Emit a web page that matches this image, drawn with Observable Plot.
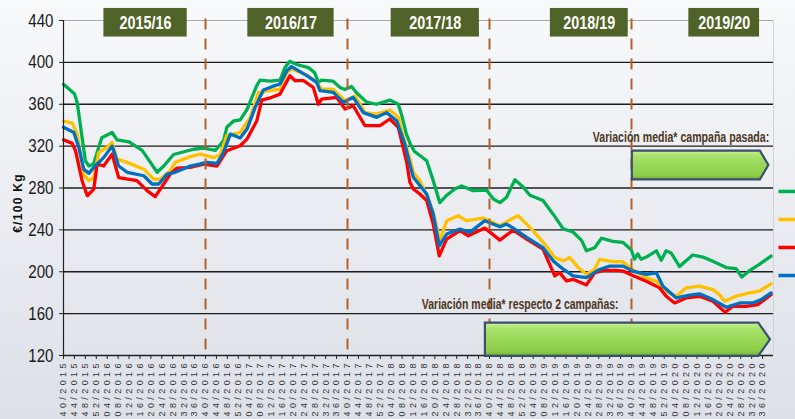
<!DOCTYPE html>
<html><head><meta charset="utf-8">
<script src="https://cdn.jsdelivr.net/npm/d3@7"></script>
<script src="https://cdn.jsdelivr.net/npm/@observablehq/plot@0.6"></script>
<style>
html,body{margin:0;padding:0;}
body{width:795px;height:419px;overflow:hidden;background:linear-gradient(#f8f9fb,#dde0e7);}
</style></head><body><div id="chart"></div>
<script>
// ---- data ----
const weekLabels = [
"40/2015","44/2015","48/2015","52/2015",
"04/2016","08/2016","12/2016","16/2016","20/2016","24/2016","28/2016","32/2016","36/2016","40/2016","44/2016","48/2016","52/2016",
"04/2017","08/2017","12/2017","16/2017","20/2017","24/2017","28/2017","32/2017","36/2017","40/2017","44/2017","48/2017","52/2017",
"04/2018","08/2018","12/2018","16/2018","20/2018","24/2018","28/2018","32/2018","36/2018","40/2018","44/2018","48/2018","52/2018",
"04/2019","08/2019","12/2019","16/2019","20/2019","24/2019","28/2019","32/2019","36/2019","40/2019","44/2019","48/2019","52/2019",
"04/2020","08/2020","12/2020","16/2020","20/2020","24/2020","28/2020","32/2020","36/2020"];
const seasons = ["2015/16","2016/17","2017/18","2018/19","2019/20"];
const seasonStartWeeks = [52,104,156,208]; // week index of 40/2016 ... 40/2019
const yTicks = [120,160,200,240,280,320,360,400,440];
const yTitle = "€/100 Kg";
const noteLastSeason = "Variación media* campaña pasada:";
const noteTwoSeasons = "Variación media* respecto 2 campañas:";

// [week index, €/100 Kg]
const greenSeries = [[0,379],[4,370],[5,362],[8,306],[9.3,301],[11,303],[14,328],[17.8,333],[19.6,326],[24,324],[28.8,316],[34.3,295],[36.7,301],[40.3,312],[47.6,317],[51.3,318],[55.6,316],[58.6,325],[59.8,338],[62.3,344],[64.7,345],[67.2,355],[70.8,378],[72,383],[75.7,382],[79.3,383],[81.1,395],[82.9,401],[85.4,398],[89.7,395],[92,390],[93.3,381],[94.5,383],[98.7,382],[101.3,376],[103,374],[105.5,377],[107.3,371],[111,362],[114.6,360],[119.5,364],[122.6,360],[124,348],[125.5,332],[127,322],[128.5,315],[130.5,311],[133,306],[135.4,287],[137.8,266],[140.3,273],[143.3,279],[145.8,282],[150,277.5],[154.9,278],[157.4,269.5],[159.8,266],[162.2,271],[165.3,288],[168.3,281],[170.8,273],[175.6,268],[179.3,255],[183,241],[186.6,238],[189.7,230],[191.5,220],[194.5,223],[197,232],[201.2,229],[204.9,228],[207.9,221],[209.1,212],[210.3,217],[211.5,212],[213.4,214],[217.1,220],[218.9,211],[220.7,220],[222.5,218],[225.6,205],[230.4,216],[234.1,214],[237.8,210],[242.7,204],[246.3,203],[248.4,195],[251.2,201],[254.8,207],[259.1,215]];
const yellowSeries = [[0,344],[3.2,342],[5,331.5],[7.4,293],[9.3,287],[11.1,290],[12.9,314],[16,319],[17.8,323.6],[19.6,307.6],[23.3,304.5],[29.4,298],[33,288.5],[35.5,288.5],[39.1,296.5],[40.9,304.5],[46.4,310],[50.1,312.4],[55,309],[57.4,312],[59.8,330],[64.7,333],[68.4,347.5],[71.4,371],[75.6,373],[79.3,374.5],[81.8,390],[83.5,393.6],[89.1,388],[92.7,381],[94.5,374.5],[98.8,374.5],[101.3,368],[103.1,363.4],[106.8,368],[110.4,352],[114.7,350.6],[119.5,354.5],[122.6,347.5],[124.5,328],[126.8,309],[128.1,295],[130.5,287],[133,272.7],[135.4,256.7],[137.8,229.6],[140.3,248.8],[144.5,253.5],[147.6,248.8],[153.7,251.3],[159.8,244],[164.7,251.3],[166.5,253.5],[169.6,245.5],[172,239],[176.2,226.4],[179.9,213.6],[183,210.4],[185.4,213.6],[188.5,204],[191.5,197.6],[194.5,202.2],[196.3,211.8],[201.2,209.6],[204.9,209.6],[207.3,203.8],[210.3,199],[213.4,194.2],[217.1,191],[220.7,181.4],[224.4,176.6],[228,184.6],[232.9,186.2],[237.8,183],[240.2,178.2],[242.1,171.8],[246.3,176.6],[251.2,179.8],[254.8,181.4],[259.1,188.5]];
const redSeries = [[0,326],[3.2,322.6],[4.4,315.6],[6.8,287],[8.7,272.6],[11.1,279],[12.3,302.9],[14.7,301],[17.8,312.4],[20.2,290],[26.9,287],[30.6,277.5],[33.6,271.7],[36.7,283.8],[39.1,293.3],[41.6,299],[46.4,299.7],[51.3,302.9],[56.2,301],[59.8,315.6],[64.7,320.4],[67.2,326.8],[70.8,344.3],[72.6,364],[76.3,366.6],[79.3,369.7],[82.9,387.3],[84.8,382.5],[87.9,382.5],[91.5,376],[93.3,360],[94.5,365],[100,366.6],[103.1,355.4],[106.1,358.6],[110.4,339.5],[115.9,339.5],[119.5,345.9],[122.6,337.9],[125.7,304.5],[126.8,286],[128.1,279],[130.5,274.3],[133,268],[135.4,245.5],[137.6,215.2],[140.3,231.2],[145.2,239.2],[148.2,234.4],[154.3,241.7],[159.8,230.2],[164.7,239.8],[169.6,231.2],[175.6,221.6],[179.9,196],[181.7,199.2],[184.2,191.2],[186.6,192.8],[191.5,187.4],[194.5,199],[197.6,201.3],[202.4,201.3],[205,200.6],[209.1,195.8],[213.4,191],[218.3,184.6],[220.7,176.6],[223.8,170.2],[228,175],[232.9,176.6],[237.8,171.8],[242.3,161.3],[245.1,167],[250,167],[254.2,168.6],[259.1,178.2]];
const blueSeries = [[0,338],[3.8,333],[5.6,318.8],[7.4,298],[9.3,294],[11.1,299.7],[14.7,309],[17.8,320],[20.2,301],[23.3,295],[29.4,291.7],[32.4,283.8],[34.9,283.8],[37.9,293.3],[40.9,295],[46.4,301],[50.1,303],[52.5,304.5],[56.2,303.5],[58.6,314],[61.1,331.5],[64.7,327.7],[67.2,336.3],[70.2,357],[73.2,373.6],[76.3,376.8],[79.3,379.3],[81.8,392],[83.5,396],[89.1,387.3],[92.7,381],[93.9,373],[98.8,371.3],[102.5,361.8],[106.1,366.6],[109.8,352],[114.7,347.5],[118.3,352],[122,344.3],[125,322],[126.8,303],[128.1,290.3],[130.5,282.3],[133,274.3],[135.4,255],[137.6,224.8],[140.3,236],[145.2,240.8],[148.8,237.6],[154.3,248.8],[159.8,243],[162.2,245.5],[164.7,241.7],[169.6,232.8],[175.6,223],[179.3,210.4],[183,202.4],[186.6,196],[191.5,194.4],[196.3,202.2],[200,205.4],[204.9,205.4],[208.5,200.6],[213.4,197.4],[217.1,199],[219.5,186.2],[224.4,175],[229.3,177.6],[232.9,178.9],[237.8,173.4],[242.7,166.1],[247.6,170.2],[252.4,170.2],[255.5,173.4],[259.1,179.8]];

// ---- layout / style (not data) ----
const seriesList = [
  {pts: greenSeries, color: "#00b050", legendY: 276.7},
  {pts: yellowSeries, color: "#ffc000", legendY: 249.9},
  {pts: redSeries, color: "#ff0000", legendY: 223.2},
  {pts: blueSeries, color: "#0070c0", legendY: 196.4}
];
const seasonBoxes = [[14.8,45.3],[67.5,99.1],[120.0,152.3],[178.3,206.8],[229.0,254.9]];
const sans = "'Liberation Sans',Arial,sans-serif";

const seasonRows = seasons.map((s,i)=>({label:s, x1:seasonBoxes[i][0], x2:seasonBoxes[i][1]}));

const marks = [
  Plot.ruleY([440], {stroke: "#a8a8a8", strokeWidth: 1}),
  Plot.ruleX([260], {y1: 120, y2: 440, stroke: "#cfd2d8", strokeWidth: 1}),
  Plot.ruleY(yTicks.filter(v => v > 120 && v < 440), {stroke: "#1c1c1c", strokeWidth: 1.3}),
];
for (const s of seriesList) {
  marks.push(Plot.line(s.pts, {x: d => d[0], y: d => d[1], stroke: s.color, strokeWidth: 3.3, strokeLinejoin: "round", curve: "linear"}));
}
marks.push(
  Plot.ruleX(seasonStartWeeks, {y1: 441.5, y2: 121, stroke: "#b4602a", strokeWidth: 2, strokeDasharray: "11,9"}),
  Plot.axisY({ticks: yTicks, tickSize: 4, tickPadding: 6, fontSize: 19, fontFamily: sans, label: null, tickFormat: d => String(d)}),
  Plot.axisX({ticks: d3.range(0, weekLabels.length * 4, 4), tickFormat: i => weekLabels[i / 4], tickRotate: -90, tickSize: 4, tickPadding: 4, fontSize: 9, fontFamily: sans, label: null}),
  Plot.ruleX([0], {y1: 120, y2: 440, stroke: "#222", strokeWidth: 1.2}),
  Plot.ruleY([120], {stroke: "#222", strokeWidth: 1.3}),
  Plot.rect(seasonRows, {x1: "x1", x2: "x2", y1: 424.2, y2: 451.5, fill: "#4f6228"}),
  Plot.text(seasonRows, {x: d => (d.x1 + d.x2) / 2, y: 437.8, text: "label", fill: "white", fontWeight: "bold", fontSize: 19, fontFamily: sans})
);
for (const s of seriesList) {
  marks.push(Plot.ruleY([s.legendY], {x1: 262, x2: 268.5, stroke: s.color, strokeWidth: 3.5}));
}

const plot = Plot.plot({
  width: 795, height: 419,
  marginLeft: 63, marginRight: 22, marginTop: 20, marginBottom: 64,
  style: {background: "transparent", overflow: "visible", color: "#222"},
  x: {domain: [0, 260]},
  y: {domain: [120, 440]},
  marks
});
document.getElementById("chart").appendChild(plot);

// post-render adjustments, positioned through the plot scales
const svg = d3.select(plot);
const sx = plot.scale("x"), sy = plot.scale("y");
const X = v => sx.apply(v), Y = v => sy.apply(v);

// condensed look of the original fonts
svg.selectAll('[aria-label="x-axis tick label"] text').attr("textLength", 53).attr("lengthAdjust", "spacing").attr("fill", "#333");
svg.selectAll('[aria-label="y-axis tick label"] text').each(function() {
  const n = this.textContent.length;
  d3.select(this).attr("textLength", 8.4 * n).attr("lengthAdjust", "spacingAndGlyphs").attr("fill", "#1a1a1a");
});
svg.selectAll('g[aria-label="text"] text').attr("textLength", 52).attr("lengthAdjust", "spacingAndGlyphs");

const defs = svg.insert("defs", ":first-child");
const g = defs.append("linearGradient").attr("id", "arrowFill").attr("x1", 0).attr("y1", 0).attr("x2", 0).attr("y2", 1);
[[0,"#c9f09a"],[0.18,"#a8e26b"],[0.5,"#98d858"],[0.85,"#8dcd4a"],[1,"#72ad34"]].forEach(([o,c]) => g.append("stop").attr("offset", o).attr("stop-color", c));

const arrows = [
  {x1: 208.3, x2: 255.2, tip: 258.3, top: 315.2, bot: 287.8},
  {x1: 154.5, x2: 254.6, tip: 258.9, top: 150.9, bot: 119.1}
];
for (const a of arrows) {
  const m = (a.top + a.bot) / 2;
  const pts = [[a.x1,a.top],[a.x2,a.top],[a.tip,m],[a.x2,a.bot],[a.x1,a.bot]].map(([x,y]) => `${X(x)},${Y(y)}`).join(" ");
  svg.append("polygon").attr("points", pts).attr("fill", "url(#arrowFill)").attr("stroke", "#3b4f6e").attr("stroke-width", 2.2).attr("stroke-linejoin", "miter");
}

const notes = [
  {text: noteLastSeason, x: 194.0, y: 323.8, len: 176.5},
  {text: noteTwoSeasons, x: 131.4, y: 164.4, len: 197}
];
for (const n of notes) {
  const t = svg.append("text").text(n.text)
    .attr("text-anchor", "start")
    .attr("font-family", sans).attr("font-weight", "bold").attr("font-size", 15.5)
    .attr("fill", "#4a3623");
  const natural = t.node().getComputedTextLength();
  t.attr("transform", `translate(${X(n.x)},${Y(n.y)}) scale(${n.len / natural},1)`);
}

svg.append("text").attr("transform", `translate(${X(-16.6)},${Y(265.2)}) rotate(-90)`)
  .attr("text-anchor", "middle").attr("dy", "0.35em").text(yTitle)
  .attr("font-family", sans).attr("font-weight", "bold").attr("font-size", 12)
  .style("letter-spacing", "1.3px").attr("fill", "#111");
</script></body></html>
